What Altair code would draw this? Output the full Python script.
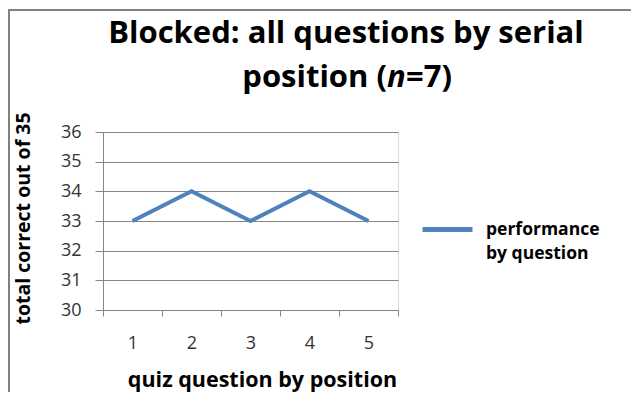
import altair as alt
import pandas as pd

# data
positions = ["1", "2", "3", "4", "5"]
scores = [33, 34, 33, 34, 33]
series_name = "performance by question"
y_ticks = [30, 31, 32, 33, 34, 35, 36]

df = pd.DataFrame({"pos": positions, "score": scores, "series": [series_name] * len(positions)})

FONT = "Open Sans"
GRAY = "#868686"
BLUE = "#4F81BD"

base = alt.Chart(df)

line = base.mark_line(strokeWidth=4, strokeJoin="miter").encode(
    x=alt.X(
        "pos:O",
        bandPosition=0.5,
        scale=alt.Scale(type="band", paddingInner=0, paddingOuter=0),
        sort=positions,
        axis=alt.Axis(
            title="quiz question by position",
            labelAngle=0,
            tickBand="extent",
            tickSize=6,
            tickColor=GRAY,
            domainColor=GRAY,
            grid=False,
            labelFont=FONT,
            labelFontSize=18,
            labelColor="#333333",
            labelPadding=18,
            titleFont=FONT,
            titleFontSize=21.5,
            titleFontWeight="bold",
            titleColor="#000000",
            titleX=159,
            titleY=76,
            titleAlign="center",
            titleBaseline="alphabetic",
        ),
    ),
    y=alt.Y(
        "score:Q",
        scale=alt.Scale(domain=[30, 36], nice=False, zero=False),
        axis=alt.Axis(
            title="total correct out of 35",
            values=y_ticks,
            tickSize=8,
            tickColor=GRAY,
            domainColor=GRAY,
            grid=True,
            gridColor=GRAY,
            labelFont=FONT,
            labelFontSize=18,
            labelColor="#333333",
            labelPadding=14,
            titleFont=FONT,
            titleFontSize=19.5,
            titleFontWeight="bold",
            titleColor="#000000",
            titleX=-80,
            titleY=86,
            titleAlign="center",
            titleBaseline="middle",
        ),
    ),
    color=alt.Color(
        "series:N",
        scale=alt.Scale(range=[BLUE]),
        legend=alt.Legend(
            title=None,
            orient="none",
            legendX=317,
            legendY=70,
            symbolType="stroke",
            symbolSize=2500,
            symbolStrokeWidth=5,
            labelFont=FONT,
            labelFontSize=17.5,
            labelFontWeight="bold",
            labelColor="#000000",
            labelOffset=11,
            labelLimit=300,
            padding=0,
            labelExpr="['performance', 'by question']",
        ),
    ),
)

frame_df = alt.Data(values=[{}])
frame_top = alt.Chart(frame_df).mark_rule(stroke="#808080", strokeWidth=2).encode(
    x=alt.value(-95), x2=alt.value(700), y=alt.value(-122)
)
frame_left = alt.Chart(frame_df).mark_rule(stroke="#808080", strokeWidth=2).encode(
    x=alt.value(-94), y=alt.value(-123), y2=alt.value(400)
)

TSIZE = 31
t1 = alt.Chart(pd.DataFrame({"t": ["Blocked: all questions by serial"]})).mark_text(
    font=FONT, fontSize=TSIZE, fontWeight="bold", align="center", baseline="alphabetic", color="#000"
).encode(text="t:N", x=alt.value(243), y=alt.value(-89))

t2a = alt.Chart(pd.DataFrame({"t": ["position ("]})).mark_text(
    font=FONT, fontSize=TSIZE, fontWeight="bold", align="right", baseline="alphabetic", color="#000"
).encode(text="t:N", x=alt.value(284), y=alt.value(-45))
t2b = alt.Chart(pd.DataFrame({"t": ["n"]})).mark_text(
    font=FONT, fontSize=TSIZE, fontWeight="bold", fontStyle="italic", align="left", baseline="alphabetic", color="#000"
).encode(text="t:N", x=alt.value(284), y=alt.value(-45))
t2c = alt.Chart(pd.DataFrame({"t": ["=7)"]})).mark_text(
    font=FONT, fontSize=TSIZE, fontWeight="bold", align="left", baseline="alphabetic", color="#000"
).encode(text="t:N", x=alt.value(303), y=alt.value(-45))

chart = alt.layer(frame_top, frame_left, line, t1, t2a, t2b, t2c).properties(
    width=295,
    height=178,
    autosize=alt.AutoSizeParams(type="none"),
    padding={"left": 95, "top": 124, "right": 233, "bottom": 82},
    background="white",
).configure_view(stroke=None).configure(
    style={"guide-label": {"lineHeight": 24}}
)

chart.save("out.html", embed_options={"renderer": "svg", "actions": False})
